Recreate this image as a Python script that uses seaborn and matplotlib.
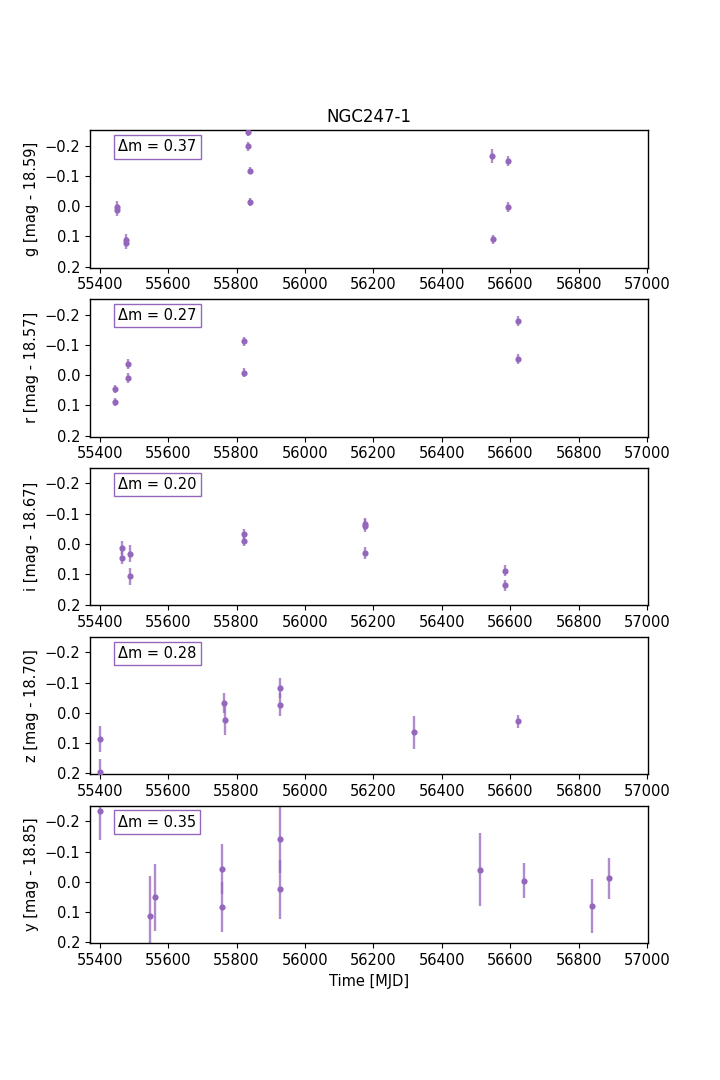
import matplotlib
matplotlib.use("Agg")
import matplotlib.pyplot as plt
import seaborn as sns
import pandas as pd

# ---- data ----
bands = ["g", "r", "i", "z", "y"]
offsets = ["18.59", "18.57", "18.67", "18.70", "18.85"]
delta_m = ["0.37", "0.27", "0.20", "0.28", "0.35"]
title = "NGC247-1"

g_mjd = [55451, 55452, 55477, 55478, 55835, 55835, 55838, 55838, 56547, 56593, 56593, 56550]
g_mag = [0.003, 0.012, 0.113, 0.123, -0.244, -0.198, -0.117, -0.014, -0.166, -0.150, 0.002, 0.109]
g_err = [0.020, 0.020, 0.020, 0.020, 0.012, 0.015, 0.012, 0.012, 0.022, 0.016, 0.016, 0.015]

r_mjd = [55445, 55445, 55482, 55482, 55822, 55823, 56622, 56623]
r_mag = [0.045, 0.090, -0.037, 0.009, -0.111, -0.008, -0.179, -0.053]
r_err = [0.013, 0.013, 0.016, 0.016, 0.016, 0.016, 0.016, 0.016]

i_mjd = [55466, 55466, 55489, 55489, 55822, 55823, 56174, 56174, 56174, 56584, 56584]
i_mag = [0.013, 0.045, 0.032, 0.107, -0.032, -0.010, -0.067, -0.061, 0.029, 0.088, 0.136]
i_err = [0.022, 0.022, 0.028, 0.028, 0.017, 0.017, 0.020, 0.020, 0.020, 0.018, 0.018]

z_mjd = [55401, 55401, 55764, 55765, 55928, 55928, 56317, 56622]
z_mag = [0.086, 0.196, -0.033, 0.022, -0.082, -0.027, 0.064, 0.028]
z_err = [0.044, 0.044, 0.033, 0.050, 0.033, 0.038, 0.054, 0.021]

y_mjd = [55401, 55547, 55562, 55759, 55759, 55928, 55928, 56511, 56640, 56839, 56888]
y_mag = [-0.234, 0.112, 0.051, -0.043, 0.083, -0.140, 0.025, -0.040, -0.004, 0.080, -0.011]
y_err = [0.095, 0.130, 0.110, 0.082, 0.083, 0.110, 0.098, 0.120, 0.058, 0.090, 0.068]

all_mjd = [g_mjd, r_mjd, i_mjd, z_mjd, y_mjd]
all_mag = [g_mag, r_mag, i_mag, z_mag, y_mag]
all_err = [g_err, r_err, i_err, z_err, y_err]

# ---- style ----
sns.set_style("ticks")
plt.rcParams.update({
    "font.family": ["DejaVu Sans"],
    "font.size": 10.5,
    "axes.labelsize": 10.5,
    "axes.titlesize": 12,
    "xtick.labelsize": 10.5,
    "ytick.labelsize": 10.5,
    "axes.edgecolor": "black",
    "axes.linewidth": 1.0,
    "xtick.color": "black",
    "ytick.color": "black",
    "xtick.major.size": 3.5,
    "ytick.major.size": 3.5,
    "axes.labelcolor": "black",
    "text.color": "black",
})
purple = "#9467bd"

fig, axes = plt.subplots(5, 1, figsize=(7.2, 10.8), dpi=100)
fig.subplots_adjust(left=0.125, right=0.9, top=0.8795, bottom=0.1266, hspace=0.229)

for k, ax in enumerate(axes):
    df = pd.DataFrame({"mjd": all_mjd[k], "mag": all_mag[k], "err": all_err[k]})
    ax.errorbar(df["mjd"], df["mag"], yerr=df["err"], fmt="none",
                ecolor=purple, alpha=0.75, elinewidth=1.7, capsize=0, zorder=2)
    sns.scatterplot(data=df, x="mjd", y="mag", ax=ax, color=purple, s=20,
                    linewidth=0, zorder=3)
    ax.set_xlim(55372, 57002)
    ax.set_ylim(0.203, -0.251)
    ax.set_xticks([55400, 55600, 55800, 56000, 56200, 56400, 56600, 56800, 57000])
    ax.set_yticks([-0.2, -0.1, 0.0, 0.1, 0.2])
    ax.set_ylabel(f"{bands[k]} [mag - {offsets[k]}]")
    ax.set_xlabel("")
    for sp in ax.spines.values():
        sp.set_visible(True)
        sp.set_color("black")
    ax.text(0.05, 0.88, f"\u0394m = {delta_m[k]}", transform=ax.transAxes,
            ha="left", va="center", fontsize=10.5,
            bbox=dict(boxstyle="square,pad=0.3", fc="white", ec=purple, lw=1.0))

axes[0].set_title(title)
axes[-1].set_xlabel("Time [MJD]")

fig.savefig("out.png", dpi=100)
